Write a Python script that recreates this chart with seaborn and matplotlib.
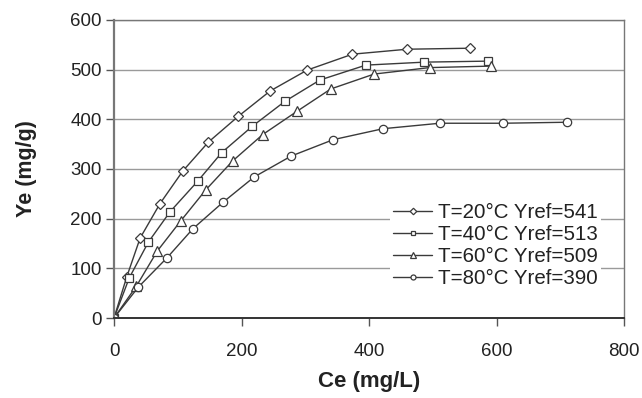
import matplotlib
matplotlib.use("Agg")
import matplotlib.pyplot as plt
import seaborn as sns
import pandas as pd

labels = ["T=20°C Yref=541", "T=40°C Yref=513", "T=60°C Yref=509", "T=80°C Yref=390"]

ce_20 = [0, 20, 41, 72, 108, 148, 195, 245, 303, 374, 460, 558]
ye_20 = [0, 83, 161, 230, 296, 354, 406, 457, 499, 531, 541, 543]

ce_40 = [0, 24, 54, 88, 131, 169, 217, 268, 323, 395, 487, 586]
ye_40 = [0, 81, 153, 214, 275, 333, 386, 436, 479, 509, 515, 517]

ce_60 = [0, 35, 68, 105, 144, 186, 233, 287, 340, 408, 495, 591]
ye_60 = [0, 64, 135, 196, 258, 316, 369, 416, 461, 491, 504, 507]

ce_80 = [0, 38, 83, 124, 171, 220, 278, 344, 422, 511, 610, 710]
ye_80 = [0, 62, 121, 180, 233, 284, 326, 359, 381, 392, 392, 394]

frames = []
for lab, xs, ys in zip(labels, [ce_20, ce_40, ce_60, ce_80], [ye_20, ye_40, ye_60, ye_80]):
    frames.append(pd.DataFrame({"Ce": xs, "Ye": ys, "series": lab}))
df = pd.concat(frames, ignore_index=True)

sns.set_theme(style="white")
plt.rcParams["font.family"] = ["Liberation Sans", "DejaVu Sans"]

fig = plt.figure(figsize=(6.42, 3.98), dpi=100)
ax = fig.add_axes([0.1776, 0.201, 0.7944, 0.749])

markers = {labels[0]: "D", labels[1]: "s", labels[2]: "^", labels[3]: "o"}
msize = {labels[0]: 5.5, labels[1]: 6.0, labels[2]: 6.5, labels[3]: 6.0}
line_col = "#3a3a3a"

for lab in labels:
    sub = df[df["series"] == lab]
    sns.lineplot(data=sub, x="Ce", y="Ye", sort=False, ax=ax, color=line_col,
                 linewidth=1.0, marker=markers[lab], markersize=msize[lab],
                 markerfacecolor="white", markeredgecolor="#3a3a3a",
                 markeredgewidth=0.9, label=lab, estimator=None)

ax.set_xlim(0, 800)
ax.set_ylim(0, 600)
ax.set_xticks([0, 200, 400, 600, 800])
ax.set_yticks([0, 100, 200, 300, 400, 500, 600])
ax.yaxis.grid(True, color="#9a9a9a", linewidth=1.0)
ax.xaxis.grid(False)
ax.set_axisbelow(True)

ax.spines["bottom"].set_color("#333333")
ax.spines["bottom"].set_linewidth(1.4)
ax.spines["left"].set_color("#777777")
ax.spines["left"].set_linewidth(1.6)
for side in ["top", "right"]:
    ax.spines[side].set_visible(True)
    ax.spines[side].set_color("#777777")
    ax.spines[side].set_linewidth(1.0)

ax.tick_params(axis="both", which="major", direction="out", length=6, width=1,
               color="#555555", labelsize=13.5, labelcolor="#222222", pad=3)
ax.tick_params(axis="x", bottom=True, pad=12)
ax.tick_params(axis="y", left=True)

ax.set_xlabel("Ce (mg/L)", fontsize=16, fontweight="bold", color="#222222", labelpad=8)
ax.set_ylabel("Ye (mg/g)", fontsize=15.5, fontweight="bold", color="#222222", labelpad=24)

leg = ax.legend(loc="upper left", bbox_to_anchor=(0.541, 0.395), frameon=True,
                facecolor="white", edgecolor="white", framealpha=1.0,
                fontsize=14.8, handlelength=1.9, handletextpad=0.3,
                labelspacing=0.14, borderpad=0.15, borderaxespad=0.0,
                markerscale=0.6)
leg.get_frame().set_linewidth(0)
for t in leg.get_texts():
    t.set_color("#222222")

fig.savefig("out.png", dpi=100)
